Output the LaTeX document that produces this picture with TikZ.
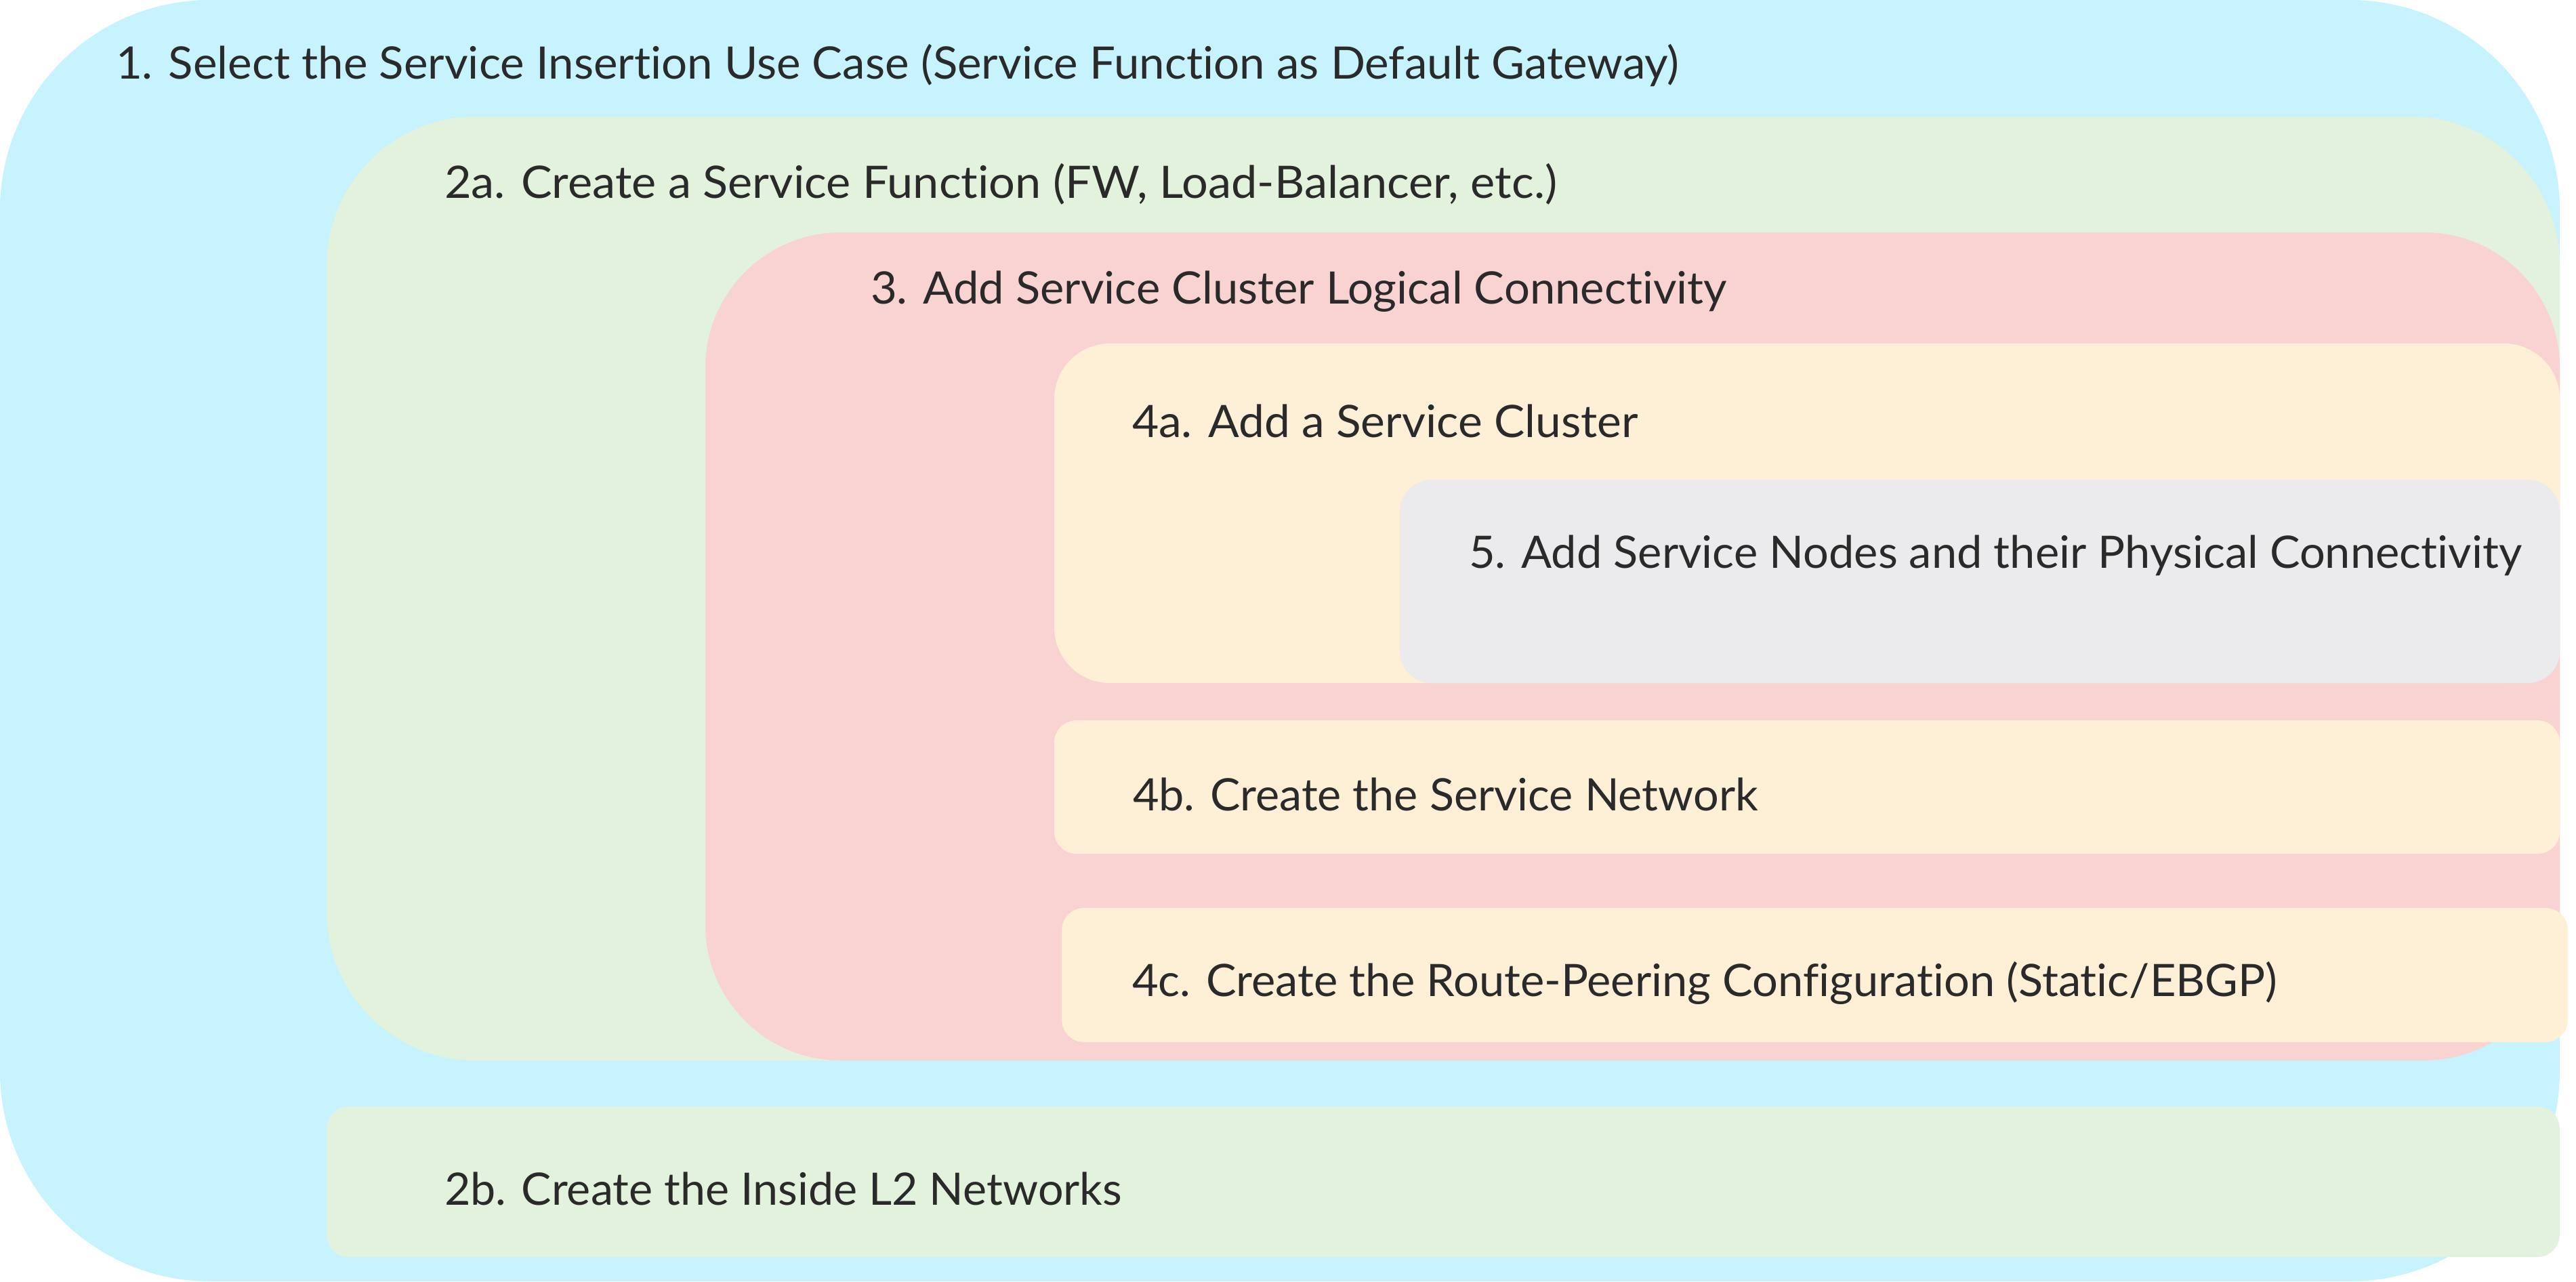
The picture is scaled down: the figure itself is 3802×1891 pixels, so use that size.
\documentclass[tikz,border=0pt]{standalone}
\usepackage{fontspec}
\setmainfont{Lato}[Ligatures={NoCommon,NoRequired,NoContextual,NoRare}]
\usepackage{graphicx}
\definecolor{cblue}{HTML}{C7F3FE}
\definecolor{cgreen}{HTML}{E2F2DC}
\definecolor{cpink}{HTML}{F9D3D2}
\definecolor{ccream}{HTML}{FEEFD7}
\definecolor{cgray}{HTML}{EBEBED}
\definecolor{ctext}{HTML}{2A2A2A}
\tikzset{
  panel/.style={fill=#1, draw=none},
  steplabel/.style={anchor=base west, inner sep=0pt, outer sep=0pt, text=ctext,
    font=\fontsize{66}{78}\selectfont},
}
\newcommand{\steptext}[2]{\resizebox{#1pt}{\height}{#2}}
\begin{document}
\begin{tikzpicture}[x=1pt,y=-1pt]
\useasboundingbox (0,0) rectangle (3802,1891);
% panels
\fill[panel=cblue, rounded corners=310pt] (0,0) rectangle (3778,1891);
\fill[panel=cgreen, rounded corners=220pt] (482,172) rectangle (3778,1565);
\fill[panel=cpink, rounded corners=200pt] (1041,343) rectangle (3778,1565);
\fill[panel=ccream, rounded corners=82pt] (1556,507) rectangle (3778,1008);
\fill[panel=cgray, rounded corners=47pt] (2066,708) rectangle (3778,1008);
\fill[panel=ccream, rounded corners=33pt] (1556,1063) rectangle (3778,1260);
\fill[panel=ccream, rounded corners=33pt] (1567,1340) rectangle (3790,1538);
\fill[panel=cgreen, rounded corners=33pt] (482,1633) rectangle (3778,1855);
% labels
\node[steplabel] (s1) at (171,116) {\steptext{2307}{1. Select the Service Insertion Use Case (Service Function as Default Gateway)}};
\node[steplabel] (s2a) at (656,292) {\steptext{1642}{2a. Create a Service Function (FW, Load-Balancer, etc.)}};
\node[steplabel] (s3) at (1285,448) {\steptext{1264}{3. Add Service Cluster Logical Connectivity}};
\node[steplabel] (s4a) at (1671,645) {\steptext{747}{4a. Add a Service Cluster}};
\node[steplabel] (s5) at (2168,838) {\steptext{1554}{5. Add Service Nodes and their Physical Connectivity}};
\node[steplabel] (s4b) at (1672,1196) {\steptext{923}{4b. Create the Service Network}};
\node[steplabel] (s4c) at (1671,1470) {\steptext{1690}{4c. Create the Route-Peering Configuration (Static/EBGP)}};
\node[steplabel] (s2b) at (656,1778) {\steptext{1000}{2b. Create the Inside L2 Networks}};
\end{tikzpicture}
\end{document}
